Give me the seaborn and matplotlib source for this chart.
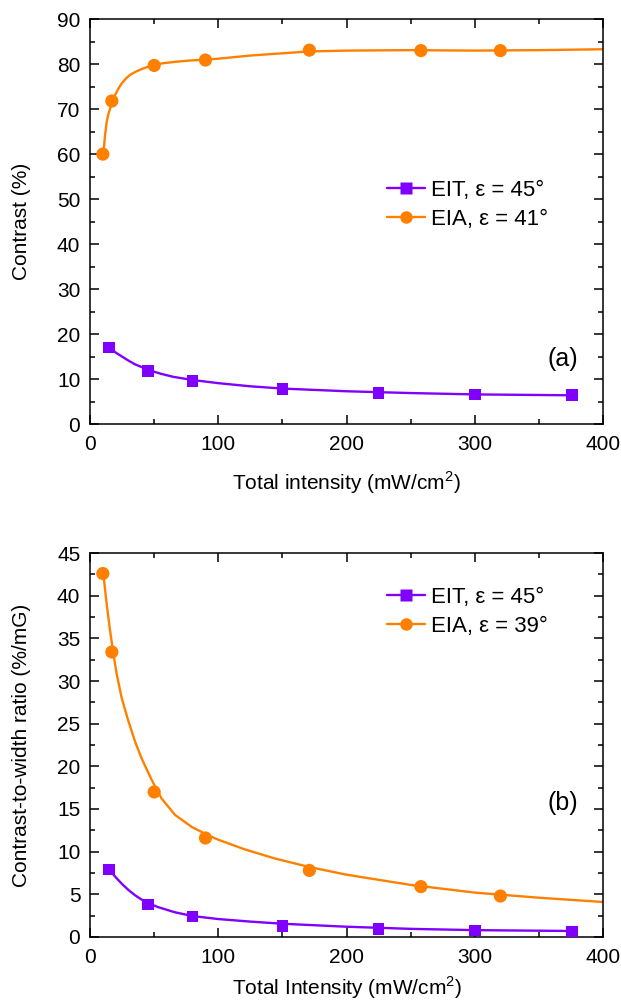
import matplotlib
matplotlib.use("Agg")
import matplotlib.pyplot as plt
from matplotlib.lines import Line2D
from matplotlib.ticker import MultipleLocator
import seaborn as sns

# Dados medidos - painel (a)
eit_x_a = [15, 45, 80, 150, 225, 300, 376]
eit_y_a = [17.0, 11.8, 9.6, 7.8, 6.9, 6.6, 6.4]
eia_x_a = [10, 17, 50, 90, 171, 258, 320]
eia_y_a = [60.0, 71.8, 79.7, 80.9, 83.1, 83.0, 83.0]

# Curvas de ajuste - painel (a)
fit_eit_x_a = [15, 20, 25, 30, 35, 40, 45, 55, 65, 80, 100, 125, 150, 200, 250, 300, 376]
fit_eit_y_a = [17.0, 15.9, 15.0, 14.1, 13.3, 12.7, 12.1, 11.2, 10.5, 9.8, 9.1, 8.4, 7.9, 7.3, 6.9, 6.6, 6.4]
fit_eia_x_a = [10.4, 11.7, 13, 14.3, 15.6, 17.5, 19.5, 22, 24.7, 28, 31.2, 35.5, 40.3, 45, 50, 57, 66.4, 78, 90, 100, 125, 150, 170, 200, 250, 300, 350, 400]
fit_eia_y_a = [60.1, 64.2, 67.2, 68.9, 70.1, 71.7, 73.1, 74.5, 75.7, 76.8, 77.6, 78.3, 78.9, 79.4, 79.8, 80.2, 80.5, 80.8, 81.0, 81.2, 81.9, 82.4, 82.8, 83.0, 83.1, 83.0, 83.1, 83.3]

# Dados medidos - painel (b)
eit_x_b = [15, 45, 80, 150, 225, 300, 376]
eit_y_b = [7.9, 3.8, 2.4, 1.3, 0.95, 0.75, 0.65]
eia_x_b = [10, 17, 50, 90, 171, 258, 320]
eia_y_b = [42.6, 33.4, 17.0, 11.6, 7.8, 5.9, 4.8]

# Curvas de ajuste - painel (b)
fit_eit_x_b = [15, 20, 25, 30, 35, 40, 45, 53, 66, 80, 100, 125, 150, 200, 250, 300, 376]
fit_eit_y_b = [7.9, 7.0, 6.2, 5.5, 4.9, 4.4, 4.0, 3.5, 2.9, 2.45, 2.1, 1.8, 1.55, 1.2, 0.95, 0.8, 0.7]
fit_eia_x_b = [10.4, 13, 15.6, 18.2, 20.8, 24.7, 29.9, 35.1, 40.3, 48.1, 55.9, 66.3, 79.3, 92.3, 100, 120, 144, 171, 200, 250, 300, 350, 400]
fit_eia_y_b = [42.5, 39.0, 35.9, 33.2, 30.8, 28.0, 25.3, 22.9, 20.9, 18.4, 16.2, 14.3, 12.9, 11.9, 11.4, 10.3, 9.2, 8.2, 7.3, 6.1, 5.2, 4.6, 4.1]

roxo = "#8000FF"
laranja = "#FF8000"

sns.set_style("ticks")
plt.rcParams["font.family"] = ["Liberation Sans", "DejaVu Sans"]
plt.rcParams["mathtext.fontset"] = "custom"
plt.rcParams["mathtext.rm"] = "Liberation Sans"
for k in ["text.color", "axes.labelcolor", "xtick.color", "ytick.color", "axes.edgecolor"]:
    plt.rcParams[k] = "black"

fig = plt.figure(figsize=(6.21, 10.05), dpi=100)
ax_a = fig.add_axes([0.145, 0.578, 0.826, 0.403])
ax_b = fig.add_axes([0.145, 0.0677, 0.826, 0.382])


def painel(ax, fx1, fy1, fx2, fy2, px1, py1, px2, py2, leg2, letra, ylabel, xlabel,
           ymax, ymaj, ymin, leg_pos, letra_pos, xpad):
    sns.lineplot(x=fx1, y=fy1, ax=ax, color=roxo, lw=1.7, sort=False)
    sns.lineplot(x=fx2, y=fy2, ax=ax, color=laranja, lw=1.7, sort=False)
    sns.scatterplot(x=px1, y=py1, ax=ax, color=roxo, marker="s", s=70, edgecolor="none", zorder=3)
    sns.scatterplot(x=px2, y=py2, ax=ax, color=laranja, marker="o", s=90, edgecolor="none", zorder=3)
    ax.set_xlim(0, 400)
    ax.set_ylim(0, ymax)
    ax.xaxis.set_major_locator(MultipleLocator(100))
    ax.xaxis.set_minor_locator(MultipleLocator(50))
    ax.yaxis.set_major_locator(MultipleLocator(ymaj))
    ax.yaxis.set_minor_locator(MultipleLocator(ymin))
    ax.tick_params(which="both", top=True, right=True, direction="in", width=1.1, labelsize=15)
    ax.tick_params(which="major", length=6.5)
    ax.tick_params(which="minor", length=3.6)
    ax.tick_params(axis="x", which="major", pad=8)
    ax.tick_params(axis="y", which="major", pad=7)
    for s in ax.spines.values():
        s.set_linewidth(1.1)
    ax.set_xlabel(xlabel, fontsize=15, labelpad=xpad)
    ax.set_ylabel(ylabel, fontsize=15, labelpad=19)
    handles = [
        Line2D([], [], color=roxo, lw=1.7, marker="s", markersize=8, markeredgecolor="none"),
        Line2D([], [], color=laranja, lw=1.7, marker="o", markersize=9, markeredgecolor="none"),
    ]
    ax.legend(handles, ["EIT, ε = 45°", leg2], loc="upper left", bbox_to_anchor=leg_pos,
              frameon=False, fontsize=16, handlelength=1.7, handletextpad=0.3,
              labelspacing=0.35, borderaxespad=0, borderpad=0)
    ax.text(letra_pos[0], letra_pos[1], letra, transform=ax.transAxes, fontsize=18,
            ha="center", va="center")


painel(ax_a, fit_eit_x_a, fit_eit_y_a, fit_eia_x_a, fit_eia_y_a,
       eit_x_a, eit_y_a, eia_x_a, eia_y_a, "EIA, ε = 41°", "(a)",
       "Contrast (%)", "Total intensity (mW/cm$^2$)", 90, 10, 5, (0.579, 0.603), (0.922, 0.16), 11)
painel(ax_b, fit_eit_x_b, fit_eit_y_b, fit_eia_x_b, fit_eia_y_b,
       eit_x_b, eit_y_b, eia_x_b, eia_y_b, "EIA, ε = 39°", "(b)",
       "Contrast-to-width ratio (%/mG)", "Total Intensity (mW/cm$^2$)", 45, 5, 2.5, (0.579, 0.912), (0.922, 0.349), 5)

fig.savefig("out.png", dpi=100)
